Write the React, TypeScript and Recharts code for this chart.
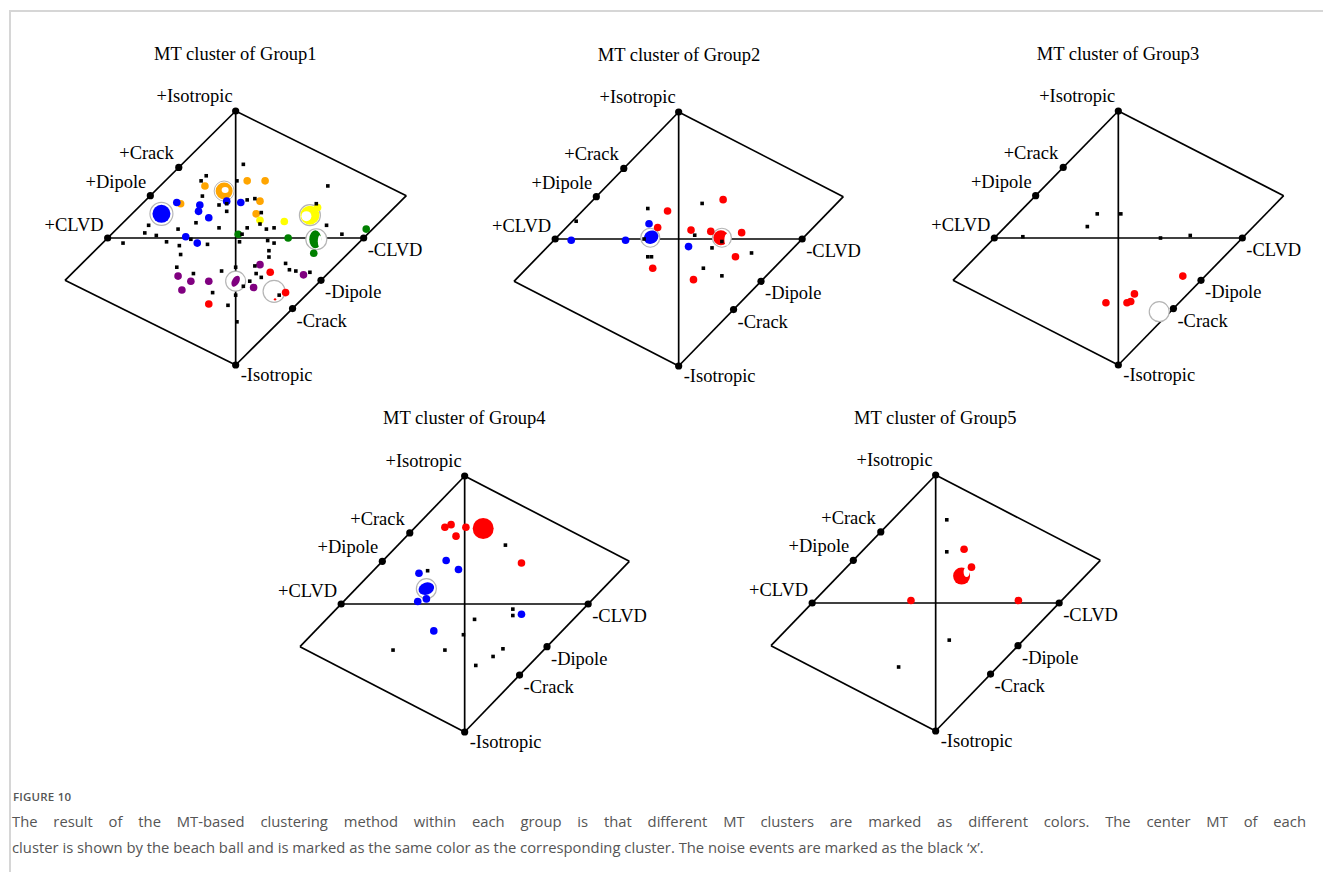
import { ScatterChart, Scatter, XAxis, YAxis, ReferenceLine } from 'recharts';

type UV = [number, number];

// Hudson (u, v) plot frame
const OUTLINE: UV[] = [[0, 1], [-4 / 3, -1 / 3], [0, -1], [4 / 3, 1 / 3], [0, 1]];
const AXES: [UV, UV][] = [[[-1, 0], [1, 0]], [[0, 1], [0, -1]]];
const VERTEX_NAMES = ['+Isotropic', '-Isotropic', '+CLVD', '-CLVD', '+Crack', '-Crack', '+Dipole', '-Dipole'];
const VERTEX_UV: UV[] = [[0, 1], [0, -1], [-1, 0], [1, 0], [-4 / 9, 5 / 9], [4 / 9, -5 / 9], [-2 / 3, 1 / 3], [2 / 3, -1 / 3]];

// ---- Group 1 ----
const g1Noise: UV[] = [
  [0.06, 0.58], [-0.23, 0.49], [0.01, 0.45], [-0.27, 0.45], [-0.26, 0.33], [-0.13, 0.26], [-0.07, 0.27],
  [-0.07, 0.21], [0.09, 0.3], [0.15, 0.31], [0.2, 0.2], [-0.31, 0.12], [-0.13, 0.08], [0.09, 0.08],
  [0.05, 0.03], [0.24, 0.07], [0.3, 0.08], [-0.68, 0.1], [-0.71, 0.04], [-0.62, 0.02], [-0.45, 0.07],
  [-0.35, -0.01], [-0.54, -0.03], [-0.44, -0.06], [-0.22, -0.05], [0.03, -0.03], [0.25, -0.02], [0.3, -0.04],
  [-0.43, -0.13], [0.26, -0.1], [0.26, -0.15], [-0.46, -0.23], [-0.33, -0.28], [-0.11, -0.26], [0.0, -0.23],
  [0.15, -0.22], [0.16, -0.28], [0.2, -0.31], [0.11, -0.34], [0.06, -0.38], [-0.18, -0.43], [-0.06, -0.53],
  [0.0, -0.45], [0.01, -0.66], [0.34, -0.45], [0.39, -0.2], [0.47, -0.26], [0.42, -0.25], [0.58, -0.27],
  [0.72, 0.41], [0.63, 0.27], [0.71, 0.1], [0.83, 0.03], [-0.88, -0.04], [0.19, 0.11],
];
const g1Orange: UV[] = [[-0.24, 0.41], [-0.43, 0.27], [0.09, 0.45], [0.23, 0.45], [0.19, 0.29], [0.16, 0.19]];
const g1Blue: UV[] = [[-0.28, 0.26], [-0.29, 0.21], [-0.21, 0.16], [-0.46, 0.28], [0.04, 0.28], [-0.07, 0.29], [-0.39, 0.01], [-0.3, -0.04]];
const g1Yellow: UV[] = [[0.19, 0.14], [0.38, 0.13], [0.64, 0.24]];
const g1Green: UV[] = [[0.02, 0.03], [0.41, 0.0], [0.61, -0.12], [1.02, 0.07]];
const g1Purple: UV[] = [[0.19, -0.21], [0.53, -0.29], [-0.45, -0.3], [-0.35, -0.34], [-0.21, -0.34], [-0.42, -0.41], [0.14, -0.39]];
const g1Red: UV[] = [[0.27, -0.27], [0.39, -0.43], [-0.21, -0.52]];
const g1BallUV: UV[] = [[-0.09, 0.37], [-0.58, 0.19], [0.58, 0.18], [0.63, -0.01], [0.0, -0.34], [0.3, -0.42]];
const g1BallKind = ['orangeDonut', 'blueFull', 'yellowCrescent', 'greenStripe', 'purpleSmall', 'redEmpty'];

// ---- Group 2 ----
const g2Noise: UV[] = [
  [-0.83, 0.14], [-0.25, 0.24], [0.19, 0.28], [0.13, 0.03], [0.27, -0.07], [0.35, -0.02], [0.59, -0.11],
  [0.2, -0.23], [0.35, -0.29], [-0.25, -0.14], [-0.22, -0.14], [-0.28, 0.0],
];
const g2Blue: UV[] = [[-0.87, -0.01], [-0.43, -0.01], [-0.24, 0.12], [0.08, -0.06]];
const g2Red: UV[] = [[-0.09, 0.22], [-0.17, 0.09], [0.36, 0.31], [0.1, 0.07], [0.26, 0.06], [0.51, 0.05], [0.46, -0.14], [0.12, -0.32], [-0.21, -0.23]];
const g2BallUV: UV[] = [[-0.23, 0.01], [0.35, 0.01]];
const g2BallKind = ['blueG2', 'redG2'];

// ---- Group 3 ----
const g3Noise: UV[] = [[-0.17, 0.19], [0.02, 0.19], [-0.25, 0.09], [-0.77, 0.01], [0.34, 0.0], [0.58, 0.02]];
const g3Red: UV[] = [[0.52, -0.3], [0.13, -0.44], [0.1, -0.5], [0.07, -0.51], [-0.1, -0.51]];
const g3BallUV: UV[] = [[0.33, -0.58]];
const g3BallKind = ['emptyRing'];

// ---- Group 4 ----
const g4Noise: UV[] = [
  [-0.3, 0.26], [0.33, 0.46], [0.39, -0.04], [0.39, -0.09], [0.08, -0.12], [-0.01, -0.24],
  [-0.16, -0.36], [0.31, -0.35], [0.23, -0.41], [0.09, -0.48], [-0.58, -0.36],
];
const g4Red: UV[] = [[-0.16, 0.6], [-0.11, 0.62], [0.01, 0.6], [-0.07, 0.53], [0.46, 0.32]];
const g4Blue: UV[] = [[-0.15, 0.34], [-0.05, 0.27], [-0.37, 0.24], [-0.38, 0.02], [-0.31, 0.04], [0.46, -0.08], [-0.25, -0.21]];
const g4BallUV: UV[] = [[0.15, 0.59], [-0.31, 0.12]];
const g4BallKind = ['redBig', 'blueG4'];

// ---- Group 5 ----
const g5Noise: UV[] = [[0.09, 0.65], [0.09, 0.4], [0.11, -0.29], [-0.3, -0.5]];
const g5Red: UV[] = [[0.23, 0.42], [0.29, 0.28], [-0.2, 0.02], [0.67, 0.02]];
const g5BallUV: UV[] = [[0.21, 0.21]];
const g5BallKind = ['redG5'];

const COLORS = {
  orange: '#FFA500',
  blue: '#0000FF',
  yellow: '#FFFF00',
  green: '#008000',
  purple: '#800080',
  red: '#FF0000',
};

const toPts = (arr: UV[]) => arr.map(([u, v]) => ({ u, v }));

const LABEL_OFFSET: Record<string, [number, number, 'start' | 'end']> = {
  '+Isotropic': [-3, -9, 'end'],
  '-Isotropic': [5, 16, 'start'],
  '+Crack': [-5, -8, 'end'],
  '+Dipole': [-4, -8, 'end'],
  '+CLVD': [-4, -7, 'end'],
  '-CLVD': [4, 18, 'start'],
  '-Dipole': [4, 18, 'start'],
  '-Crack': [4, 18, 'start'],
};

const SERIF = '"Liberation Serif", "Times New Roman", serif';
const RING = '#b5b5b5';

function Ball({ cx, cy, kind }: { cx: number; cy: number; kind: string }) {
  switch (kind) {
    case 'orangeDonut':
      return (
        <g>
          <circle cx={cx} cy={cy} r={10} fill="none" stroke={RING} strokeWidth={1} />
          <circle cx={cx} cy={cy} r={8.5} fill={COLORS.orange} />
          <ellipse cx={cx + 1} cy={cy - 1} rx={3.5} ry={3} fill="#fff" />
        </g>
      );
    case 'blueFull':
      return (
        <g>
          <circle cx={cx} cy={cy} r={11.5} fill="#fff" stroke={RING} strokeWidth={1.2} />
          <circle cx={cx} cy={cy} r={9} fill={COLORS.blue} />
        </g>
      );
    case 'yellowCrescent':
      return (
        <g>
          <circle cx={cx} cy={cy} r={10.5} fill="#fff" stroke={RING} strokeWidth={1.2} />
          <circle cx={cx} cy={cy} r={9.5} fill={COLORS.yellow} />
          <circle cx={cx - 3.5} cy={cy + 1} r={5} fill="#fff" />
        </g>
      );
    case 'greenStripe':
      return (
        <g>
          <circle cx={cx} cy={cy} r={10.5} fill="#fff" stroke={RING} strokeWidth={1.2} />
          <ellipse cx={cx - 1} cy={cy} rx={6} ry={9} fill={COLORS.green} />
          <ellipse cx={cx + 3.5} cy={cy + 2} rx={2} ry={6} fill="#fff" />
        </g>
      );
    case 'purpleSmall':
      return (
        <g>
          <circle cx={cx} cy={cy} r={10} fill="#fff" stroke={RING} strokeWidth={1.2} />
          <ellipse cx={cx} cy={cy} rx={3.5} ry={6} fill={COLORS.purple} transform={`rotate(30 ${cx} ${cy})`} />
        </g>
      );
    case 'redEmpty':
      return (
        <g>
          <circle cx={cx} cy={cy} r={11} fill="#fff" stroke={RING} strokeWidth={1.2} />
          <circle cx={cx + 1} cy={cy + 8} r={1.2} fill={COLORS.red} />
        </g>
      );
    case 'blueG2':
      return (
        <g>
          <circle cx={cx} cy={cy} r={9.5} fill="#fff" stroke={RING} strokeWidth={1.2} />
          <ellipse cx={cx + 1} cy={cy} rx={7.5} ry={6.5} fill={COLORS.blue} transform={`rotate(-30 ${cx} ${cy})`} />
        </g>
      );
    case 'redG2':
      return (
        <g>
          <circle cx={cx} cy={cy} r={9.5} fill="#fff" stroke={RING} strokeWidth={1.2} />
          <circle cx={cx - 1} cy={cy} r={7.5} fill={COLORS.red} />
          <ellipse cx={cx + 5} cy={cy + 2} rx={2.5} ry={6} fill="#fff" />
        </g>
      );
    case 'emptyRing':
      return <circle cx={cx} cy={cy} r={10} fill="#fff" stroke={RING} strokeWidth={1.2} />;
    case 'redBig':
      return <circle cx={cx} cy={cy} r={10.5} fill={COLORS.red} />;
    case 'blueG4':
      return (
        <g>
          <circle cx={cx} cy={cy} r={10} fill="#fff" stroke={RING} strokeWidth={1.2} />
          <ellipse cx={cx} cy={cy} rx={8} ry={6} fill={COLORS.blue} transform={`rotate(-20 ${cx} ${cy})`} />
        </g>
      );
    case 'redG5':
      return (
        <g>
          <circle cx={cx} cy={cy} r={8.5} fill={COLORS.red} />
          <ellipse cx={cx + 5} cy={cy - 4} rx={3} ry={5} fill="#fff" />
        </g>
      );
    default:
      return null;
  }
}

interface Cluster {
  color: string;
  points: UV[];
}

interface PanelProps {
  title: string;
  cx: number;
  cy: number;
  sx: number;
  sy: number;
  noise: UV[];
  clusters: Cluster[];
  ballUV: UV[];
  ballKind: string[];
}

function HudsonPanel({ title, cx, cy, sx, sy, noise, clusters, ballUV, ballKind }: PanelProps) {
  const plotW = (8 / 3) * sx;
  const plotH = 2 * sy;
  const M = 100;
  const MT = 40;
  const MB = 40;
  const vertices = VERTEX_NAMES.map((name, i) => ({ name, u: VERTEX_UV[i][0], v: VERTEX_UV[i][1] }));
  const balls = ballUV.map(([u, v], i) => ({ u, v, kind: ballKind[i] }));
  const segs: [UV, UV][] = [];
  for (let i = 0; i < OUTLINE.length - 1; i++) segs.push([OUTLINE[i], OUTLINE[i + 1]]);
  AXES.forEach((a) => segs.push(a));

  return (
    <>
      <div
        style={{
          position: 'absolute',
          left: cx - 150,
          width: 300,
          top: cy - sy - 51 - 0.8375 * 18.5,
          textAlign: 'center',
          fontFamily: SERIF,
          fontSize: 18.5,
          lineHeight: '18.5px',
          color: '#000',
        }}
      >
        {title}
      </div>
      <div style={{ position: 'absolute', left: cx - M - plotW / 2, top: cy - MT - sy }}>
        <ScatterChart width={plotW + 2 * M} height={plotH + MT + MB} margin={{ top: MT, right: M, bottom: MB, left: M }}>
          <XAxis type="number" dataKey="u" domain={[-4 / 3, 4 / 3]} hide />
          <YAxis type="number" dataKey="v" domain={[-1, 1]} hide />
          {segs.map((s, i) => (
            <ReferenceLine
              key={i}
              segment={[{ x: s[0][0], y: s[0][1] }, { x: s[1][0], y: s[1][1] }]}
              stroke="#000"
              strokeWidth={1.7}
              ifOverflow="visible"
            />
          ))}
          <Scatter
            data={balls}
            isAnimationActive={false}
            shape={(p: any) => <Ball cx={p.cx} cy={p.cy} kind={p.payload.kind} />}
          />
          {clusters.map((c, i) => (
            <Scatter
              key={i}
              data={toPts(c.points)}
              isAnimationActive={false}
              shape={(p: any) => <circle cx={p.cx} cy={p.cy} r={3.8} fill={c.color} />}
            />
          ))}
          <Scatter
            data={toPts(noise)}
            isAnimationActive={false}
            shape={(p: any) => <rect x={p.cx - 1.8} y={p.cy - 1.8} width={3.6} height={3.6} fill="#000" />}
          />
          <Scatter
            data={vertices}
            isAnimationActive={false}
            shape={(p: any) => {
              const [dx, dy, anchor] = LABEL_OFFSET[p.payload.name];
              return (
                <g>
                  <circle cx={p.cx} cy={p.cy} r={3.6} fill="#000" />
                  <text
                    x={p.cx + dx}
                    y={p.cy + dy}
                    textAnchor={anchor}
                    fontFamily={SERIF}
                    fontSize={18.5}
                    fill="#000"
                  >
                    {p.payload.name}
                  </text>
                </g>
              );
            }}
          />
        </ScatterChart>
      </div>
    </>
  );
}

export default function App() {
  return (
    <div style={{ position: 'absolute', left: 0, top: 0, width: 1323, height: 872, background: '#fff', overflow: 'hidden' }}>
      <div
        style={{
          position: 'absolute',
          left: 9,
          top: 10,
          width: 1320,
          height: 870,
          borderTop: '2px solid #d6d6d6',
          borderLeft: '2px solid #d6d6d6',
        }}
      />
      <HudsonPanel
        title="MT cluster of Group1"
        cx={235.3}
        cy={238.3}
        sx={128}
        sy={127}
        noise={g1Noise}
        clusters={[
          { color: COLORS.orange, points: g1Orange },
          { color: COLORS.blue, points: g1Blue },
          { color: COLORS.yellow, points: g1Yellow },
          { color: COLORS.green, points: g1Green },
          { color: COLORS.purple, points: g1Purple },
          { color: COLORS.red, points: g1Red },
        ]}
        ballUV={g1BallUV}
        ballKind={g1BallKind}
      />
      <HudsonPanel
        title="MT cluster of Group2"
        cx={679}
        cy={239}
        sx={123.5}
        sy={127}
        noise={g2Noise}
        clusters={[
          { color: COLORS.blue, points: g2Blue },
          { color: COLORS.red, points: g2Red },
        ]}
        ballUV={g2BallUV}
        ballKind={g2BallKind}
      />
      <HudsonPanel
        title="MT cluster of Group3"
        cx={1118}
        cy={238.3}
        sx={124}
        sy={127}
        noise={g3Noise}
        clusters={[{ color: COLORS.red, points: g3Red }]}
        ballUV={g3BallUV}
        ballKind={g3BallKind}
      />
      <HudsonPanel
        title="MT cluster of Group4"
        cx={464.3}
        cy={603.7}
        sx={123.5}
        sy={128}
        noise={g4Noise}
        clusters={[
          { color: COLORS.red, points: g4Red },
          { color: COLORS.blue, points: g4Blue },
        ]}
        ballUV={g4BallUV}
        ballKind={g4BallKind}
      />
      <HudsonPanel
        title="MT cluster of Group5"
        cx={935.3}
        cy={603.3}
        sx={123.5}
        sy={128}
        noise={g5Noise}
        clusters={[{ color: COLORS.red, points: g5Red }]}
        ballUV={g5BallUV}
        ballKind={g5BallKind}
      />
      <div
        style={{
          position: 'absolute',
          left: 13,
          top: 789,
          fontFamily: '"Open Sans", sans-serif',
          fontSize: 11.5,
          fontWeight: 600,
          color: '#555',
          letterSpacing: 0.2,
        }}
      >
        FIGURE 10
      </div>
      <div
        style={{
          position: 'absolute',
          left: 12,
          top: 808,
          width: 1294,
          fontFamily: '"Open Sans", sans-serif',
          fontSize: 14.8,
          lineHeight: '26px',
          color: '#555',
          whiteSpace: 'nowrap',
        }}
      >
        <div style={{ textAlign: 'justify', textAlignLast: 'justify', whiteSpace: 'normal' }}>
          The result of the MT-based clustering method within each group is that different MT clusters are marked as different colors. The center MT of each
        </div>
        <div>
          cluster is shown by the beach ball and is marked as the same color as the corresponding cluster. The noise events are marked as the black ‘x’.
        </div>
      </div>
    </div>
  );
}
